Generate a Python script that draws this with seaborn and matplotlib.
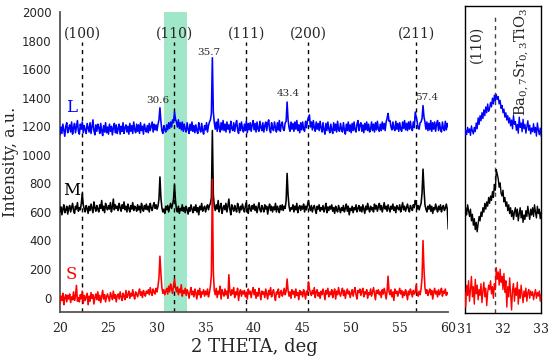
import numpy as np
import matplotlib
matplotlib.use("Agg")
import matplotlib.pyplot as plt
import seaborn as sns

# 2-theta grid of the wide scan (20..60 deg, 0.1 deg step)
two_theta = np.round(np.arange(20.0, 60.01, 0.1), 2)

L_counts = [
    1140, 1195, 1150, 1215, 1170, 1130, 1200, 1225, 1155, 1185,
    1210, 1160, 1230, 1145, 1190, 1220, 1155, 1200, 1240, 1165,
    1145, 1215, 1180, 1230, 1155, 1205, 1175, 1150, 1220, 1190,
    1160, 1225, 1150, 1195, 1245, 1170, 1140, 1210, 1165, 1215,
    1190, 1150, 1220, 1170, 1135, 1205, 1160, 1225, 1155, 1195,
    1145, 1215, 1165, 1200, 1140, 1190, 1220, 1155, 1210, 1150,
    1185, 1215, 1145, 1200, 1165, 1225, 1150, 1190, 1210, 1160,
    1200, 1145, 1220, 1165, 1205, 1150, 1230, 1175, 1155, 1215,
    1165, 1210, 1150, 1225, 1170, 1200, 1145, 1215, 1180, 1160,
    1205, 1155, 1220, 1170, 1200, 1230, 1160, 1215, 1175, 1210,
    1170, 1215, 1245, 1330, 1235, 1170, 1150, 1205, 1175, 1160,
    1210, 1175, 1225, 1185, 1230, 1195, 1245, 1225, 1300, 1250,
    1230, 1195, 1245, 1185, 1225, 1175, 1230, 1165, 1215, 1180,
    1160, 1225, 1180, 1150, 1215, 1170, 1230, 1165, 1205, 1155,
    1210, 1170, 1150, 1225, 1180, 1160, 1220, 1170, 1145, 1205,
    1175, 1225, 1160, 1205, 1230, 1245, 1290, 1680, 1300, 1225,
    1180, 1230, 1165, 1250, 1190, 1160, 1225, 1175, 1240, 1170,
    1215, 1160, 1230, 1180, 1210, 1155, 1235, 1185, 1170, 1225,
    1165, 1210, 1240, 1175, 1150, 1220, 1170, 1230, 1185, 1160,
    1215, 1170, 1235, 1155, 1220, 1175, 1225, 1165, 1210, 1240,
    1175, 1220, 1160, 1230, 1180, 1165, 1235, 1190, 1170, 1225,
    1160, 1205, 1230, 1170, 1220, 1245, 1175, 1155, 1225, 1185,
    1170, 1230, 1190, 1160, 1225, 1175, 1240, 1165, 1210, 1230,
    1180, 1170, 1225, 1235, 1370, 1245, 1190, 1165, 1230, 1180,
    1220, 1165, 1230, 1180, 1240, 1170, 1210, 1155, 1225, 1175,
    1230, 1180, 1165, 1235, 1190, 1240, 1260, 1280, 1195, 1230,
    1175, 1240, 1190, 1165, 1230, 1180, 1220, 1170, 1235, 1190,
    1160, 1225, 1175, 1145, 1220, 1170, 1230, 1180, 1155, 1215,
    1175, 1150, 1225, 1170, 1215, 1160, 1235, 1175, 1165, 1220,
    1180, 1160, 1225, 1175, 1145, 1215, 1170, 1230, 1165, 1210,
    1155, 1220, 1170, 1230, 1175, 1160, 1215, 1240, 1170, 1210,
    1225, 1165, 1210, 1155, 1220, 1175, 1230, 1170, 1215, 1160,
    1180, 1230, 1170, 1215, 1160, 1225, 1175, 1235, 1180, 1165,
    1215, 1170, 1230, 1180, 1220, 1170, 1230, 1255, 1290, 1235,
    1240, 1195, 1175, 1230, 1185, 1170, 1235, 1180, 1220, 1165,
    1225, 1180, 1165, 1230, 1185, 1240, 1175, 1220, 1170, 1230,
    1180, 1235, 1185, 1170, 1230, 1190, 1300, 1265, 1230, 1185,
    1180, 1225, 1230, 1255, 1345, 1265, 1230, 1180, 1230, 1170,
    1220, 1175, 1240, 1165, 1225, 1180, 1230, 1165, 1215, 1240,
    1170, 1225, 1180, 1160, 1230, 1185, 1170, 1235, 1175, 1220,
    1195,
]

M_counts = [
    600, 635, 580, 620, 650, 595, 615, 640, 585, 625,
    645, 600, 630, 660, 610, 590, 640, 620, 665, 605,
    630, 615, 660, 730, 650, 620, 600, 645, 625, 590,
    640, 610, 655, 625, 595, 670, 630, 605, 645, 620,
    600, 650, 625, 680, 610, 640, 595, 660, 630, 615,
    645, 620, 665, 600, 635, 690, 615, 650, 625, 640,
    610, 660, 630, 605, 650, 625, 670, 615, 640, 600,
    655, 625, 600, 645, 620, 665, 610, 640, 630, 605,
    650, 615, 640, 595, 660, 625, 605, 645, 620, 655,
    615, 640, 600, 660, 630, 610, 645, 665, 625, 650,
    620, 640, 690, 845, 700, 630, 600, 620, 590, 640,
    615, 645, 600, 635, 660, 625, 650, 690, 790, 680,
    620, 600, 640, 590, 625, 610, 650, 605, 630, 595,
    640, 615, 585, 630, 605, 650, 620, 595, 635, 610,
    650, 600, 630, 580, 640, 615, 660, 605, 625, 640,
    600, 630, 650, 615, 645, 660, 700, 1170, 720, 640,
    610, 650, 620, 680, 600, 635, 660, 590, 625, 645,
    615, 660, 600, 640, 690, 620, 580, 650, 625, 605,
    645, 620, 600, 660, 630, 595, 640, 615, 655, 625,
    600, 640, 665, 615, 590, 650, 625, 605, 645, 620,
    655, 610, 640, 595, 630, 665, 615, 600, 645, 625,
    600, 650, 620, 640, 585, 630, 655, 610, 640, 600,
    635, 615, 660, 600, 640, 620, 595, 645, 615, 650,
    610, 640, 625, 680, 870, 720, 640, 605, 630, 620,
    650, 600, 640, 615, 660, 595, 630, 645, 610, 640,
    620, 655, 600, 640, 615, 650, 680, 635, 610, 645,
    600, 630, 645, 615, 590, 640, 620, 650, 605, 630,
    615, 645, 600, 625, 660, 595, 635, 610, 640, 620,
    650, 605, 630, 590, 640, 615, 600, 645, 620, 595,
    630, 610, 645, 600, 625, 655, 605, 640, 580, 625,
    610, 640, 595, 630, 615, 650, 600, 625, 645, 605,
    635, 600, 650, 620, 590, 640, 615, 660, 625, 600,
    640, 615, 630, 600, 655, 620, 645, 605, 635, 660,
    615, 645, 600, 630, 665, 620, 640, 605, 650, 625,
    600, 640, 620, 655, 610, 635, 595, 645, 625, 615,
    650, 600, 630, 665, 615, 640, 605, 630, 655, 620,
    600, 645, 625, 610, 650, 630, 680, 660, 620, 645,
    615, 640, 660, 730, 900, 760, 650, 620, 600, 640,
    620, 650, 605, 640, 590, 630, 615, 655, 625, 600,
    640, 615, 650, 600, 630, 645, 610, 625, 655, 620,
    480,
]

S_counts = [
    -40, 10, -20, 30, -50, 0, 20, -30, 15, -10,
    25, -35, 5, -15, 40, -20, 10, 85, -25, 0,
    -30, 20, -10, 45, -40, 15, -20, 5, 30, -50,
    10, -25, 35, -5, 20, -45, 0, 25, -15, 40,
    -20, 15, -35, 10, 50, -10, 20, -30, 5, 25,
    0, -25, 35, 10, -15, 45, -5, 20, -30, 15,
    25, -10, 40, 5, -20, 30, 10, -15, 50, 0,
    20, 45, -5, 30, 10, 55, 15, -10, 40, 25,
    5, 35, 60, 15, 40, 0, 50, 25, 10, 45,
    30, 55, 20, 70, 35, 15, 60, 40, 25, 65,
    40, 80, 140, 290, 170, 70, 30, 55, 20, 45,
    65, 25, 80, 40, 95, 60, 30, 85, 130, 70,
    40, 75, 20, 60, 35, 90, 10, 50, 30, 65,
    15, 55, 35, -5, 40, 70, 20, 45, 5, 60,
    30, -10, 50, 20, 65, 0, 40, 25, 55, 10,
    45, 20, 60, 5, 35, 80, 160, 830, 180, 50,
    20, 65, 0, 45, 25, 80, -10, 55, 30, 10,
    60, 20, 45, -5, 160, 40, 15, 55, 25, 70,
    0, 40, 20, 65, -20, 35, 55, 10, 45, 25,
    50, 5, 35, -10, 60, 25, 45, 0, 40, 70,
    20, 55, -5, 35, 10, 65, 30, -15, 45, 25,
    40, 0, 60, 25, -10, 50, 20, 70, 5, 35,
    55, 15, -20, 40, 25, 60, 0, 35, 50, 10,
    30, 65, 20, 45, 130, 50, 10, 40, -5, 55,
    25, 45, 0, 60, 15, 35, -15, 50, 20, 40,
    5, 55, 30, -10, 45, 20, 110, 60, 35, 15,
    50, 25, 70, 0, 40, 55, 10, 35, -5, 45,
    20, 60, 30, -15, 50, 25, 65, 5, 40, 20,
    55, 0, 35, 60, -10, 45, 20, 70, 30, 10,
    40, 65, 15, 50, -5, 35, 60, 25, 45, 0,
    30, 55, 10, 45, 70, 20, -10, 50, 35, 60,
    15, 45, 65, 5, 40, 25, 55, -5, 35, 20,
    60, 10, 40, 70, 25, -15, 50, 30, 55, 20,
    40, 0, 55, 25, 65, 35, -10, 45, 150, 40,
    20, 55, 5, 40, -20, 60, 30, 45, 10, 35,
    65, 25, 50, 0, 40, 15, 55, 30, -15, 45,
    20, 60, 35, 5, 50, 25, 40, 90, 30, 10,
    45, 20, 60, 140, 400, 200, 70, 30, 55, 15,
    40, 60, 20, 50, -10, 35, 65, 25, 45, 5,
    55, 20, 40, 65, 10, 45, 30, 60, 15, 35,
    25,
]

# fine scan around the (110) reflection, 31..33 deg, 0.025 deg step
two_theta_zoom = np.round(np.arange(31.0, 33.001, 0.025), 3)

L_zoom = [
    1110, 1150, 1120, 1170, 1135, 1160, 1115, 1180, 1145,
    1125, 1170, 1140, 1200, 1160, 1235, 1190, 1250, 1215,
    1270, 1230, 1290, 1250, 1310, 1270, 1330, 1280, 1300,
    1340, 1310, 1370, 1330, 1390, 1350, 1395, 1360, 1380,
    1330, 1355, 1300, 1320, 1270, 1295, 1240, 1270, 1220,
    1250, 1200, 1235, 1180, 1220, 1160, 1250, 1190, 1210,
    1150, 1190, 1130, 1240, 1170, 1200, 1140, 1225, 1160,
    1190, 1130, 1175, 1215, 1150, 1185, 1125, 1165, 1140,
    1195, 1135, 1170, 1110, 1200, 1150, 1120, 1165, 1110,
]

M_zoom = [
    590, 620, 570, 640, 600, 560, 610, 530, 575,
    500, 545, 470, 520, 455, 510, 560, 530, 590,
    560, 620, 590, 650, 610, 660, 630, 690, 650,
    700, 670, 730, 690, 780, 740, 880, 850, 820,
    760, 790, 720, 700, 740, 660, 690, 630, 660,
    600, 640, 580, 620, 560, 600, 540, 590, 620,
    560, 610, 530, 580, 620, 550, 600, 520, 570,
    540, 600, 560, 630, 580, 540, 610, 570, 620,
    560, 640, 590, 550, 630, 580, 610, 545, 590,
]

S_zoom = [
    40, -60, 90, 20, 120, -20, 60, 150, 10,
    80, -40, 130, 30, 90, -10, 60, 20, 100,
    -30, 50, 110, 10, 70, -50, 40, 90, 60,
    120, 30, 80, 0, 100, 60, 210, 130, 180,
    90, 200, 110, 150, 60, 170, 40, 120, -60,
    80, 10, 140, 30, -80, 60, 100, -20, 70,
    20, 110, -40, 60, 0, 90, 30, -30, 50,
    10, 70, -20, 40, 60, 0, 50, 20, 45,
    -10, 30, 60, 0, 40, 15, 50, -20, 30,
]

hkl_labels = ["(100)", "(110)", "(111)", "(200)", "(211)"]
hkl_pos = [22.3, 31.8, 39.2, 45.6, 56.7]

peak_labels = ["30.6", "35.7", "43.4", "57.4"]
peak_x = [30.1, 35.3, 43.5, 57.8]
peak_y = [1380, 1720, 1430, 1400]

sample_names = ["L", "M", "S"]
sample_colors = ["#0000ff", "#000000", "#ff0000"]
sample_y = [1330, 750, 160]

sns.set_style("white")
plt.rcParams["mathtext.fontset"] = "dejavuserif"
serif = "DejaVu Serif"

fig = plt.figure(figsize=(5.5, 3.56), dpi=100)
ax = fig.add_axes([0.109, 0.124, 0.706, 0.842])
ax2 = fig.add_axes([0.845, 0.121, 0.139, 0.862])

ax.axvspan(30.7, 33.1, color="#a0e6c8", lw=0, zorder=0)

for ys, c in zip([L_counts, M_counts, S_counts], sample_colors):
    sns.lineplot(x=two_theta, y=ys, color=c, lw=1.15, ax=ax,
                 estimator=None, sort=False, zorder=3)

for lab, xp in zip(hkl_labels, hkl_pos):
    ax.plot([xp, xp], [-100, 1790], ls=(0, (3, 3)), color="black", lw=1.0, zorder=2)
    ax.text(xp, 1850, lab, ha="center", va="center", fontsize=10, family=serif)

for lab, xp, yp in zip(peak_labels, peak_x, peak_y):
    ax.text(xp, yp, lab, ha="center", va="center", fontsize=7.5, family=serif)

for name, c, yp in zip(sample_names, sample_colors, sample_y):
    ax.text(21.2, yp, name, ha="center", va="center", fontsize=12, color=c, family=serif)

ax.set_xlim(20, 60)
ax.set_ylim(-100, 2000)
ax.set_xticks(range(20, 61, 5))
ax.set_xticks(np.arange(22.5, 60, 5), minor=True)
ax.set_yticks(range(0, 2001, 200))
ax.tick_params(axis="x", which="major", direction="out", length=4, width=1, labelsize=9)
ax.tick_params(axis="x", which="minor", direction="out", length=3, width=1)
ax.tick_params(axis="y", length=0, labelsize=8.5, pad=6)
for t in ax.get_xticklabels():
    t.set_family(serif)
for side in ["top", "right"]:
    ax.spines[side].set_visible(False)
for side in ["left", "bottom"]:
    ax.spines[side].set_color("#555555")
    ax.spines[side].set_linewidth(1.3)
ax.set_xlabel("2 THETA, deg", fontsize=13, family=serif, labelpad=2)
ax.set_ylabel("Intensity, a.u.", fontsize=11.5, family=serif, labelpad=2)

# zoom on the (110) reflection
for ys, c in zip([L_zoom, M_zoom, S_zoom], sample_colors):
    sns.lineplot(x=two_theta_zoom, y=ys, color=c, lw=1.0, ax=ax2,
                 estimator=None, sort=False, zorder=3)
ax2.plot([31.8, 31.8], [-100, 1930], ls=(0, (3, 3)), color="#444444", lw=1.0, zorder=2)
ax2.text(31.3, 1740, "(110)", rotation=90, ha="center", va="center", fontsize=10, family=serif)
ax2.text(32.5, 1620, "Ba$_{0,7}$Sr$_{0,3}$TiO$_3$", rotation=90, ha="center", va="center",
         fontsize=10.5, family=serif)
ax2.set_xlim(31, 33)
ax2.set_ylim(-100, 2000)
ax2.set_xticks([31, 32, 33])
ax2.set_xticks([31.5, 32.5], minor=True)
ax2.set_yticks([])
ax2.tick_params(axis="x", which="major", direction="out", length=4, width=1, labelsize=9)
ax2.tick_params(axis="x", which="minor", direction="out", length=3, width=1)
for t in ax2.get_xticklabels():
    t.set_family(serif)
for side in ax2.spines:
    ax2.spines[side].set_color("black")
    ax2.spines[side].set_linewidth(1.0)

fig.savefig("out.png", dpi=100)
